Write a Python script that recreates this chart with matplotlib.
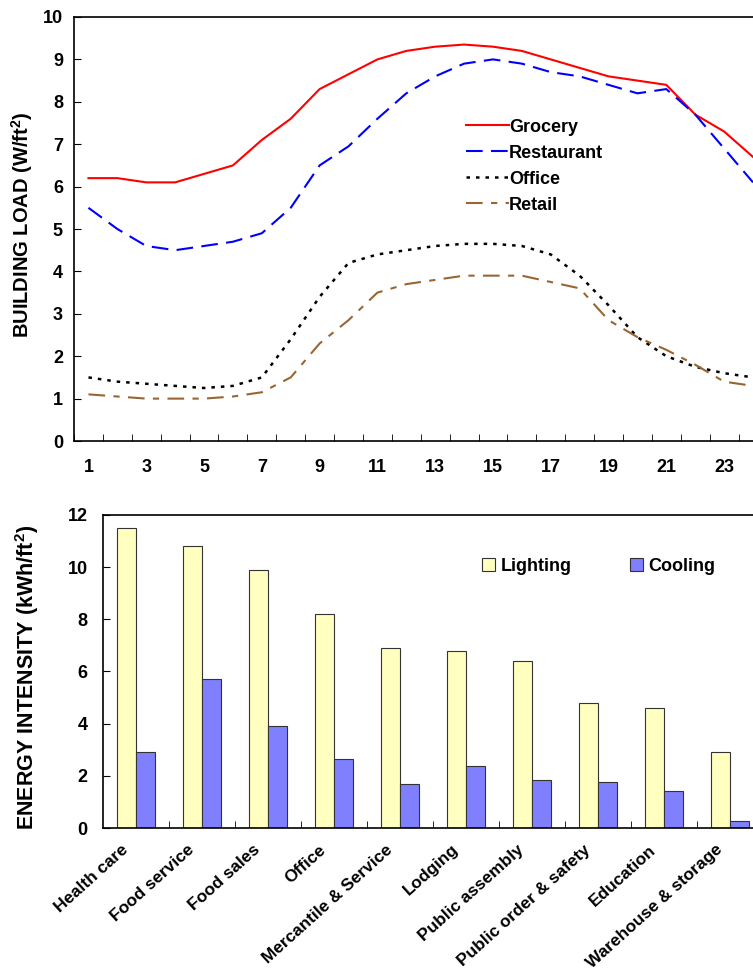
import matplotlib
matplotlib.use("Agg")
import matplotlib.pyplot as plt
import matplotlib.transforms as mtrans
import numpy as np
from matplotlib.ticker import FixedLocator

plt.rcParams['font.family'] = ['Liberation Sans', 'DejaVu Sans']
plt.rcParams['font.weight'] = 'bold'
plt.rcParams['mathtext.fontset'] = 'custom'
plt.rcParams['mathtext.bf'] = 'Liberation Sans:bold'
plt.rcParams['mathtext.rm'] = 'Liberation Sans:bold'

hours = list(range(1, 25))
grocery = [6.2, 6.2, 6.1, 6.1, 6.3, 6.5, 7.1, 7.6, 8.3, 8.65, 9.0, 9.2, 9.3, 9.35, 9.3, 9.2, 9.0, 8.8, 8.6, 8.5, 8.4, 7.7, 7.3, 6.7]
restaurant = [5.5, 5.0, 4.6, 4.5, 4.6, 4.7, 4.9, 5.5, 6.5, 6.95, 7.6, 8.2, 8.6, 8.9, 9.0, 8.9, 8.7, 8.6, 8.4, 8.2, 8.3, 7.7, 6.9, 6.1]
office = [1.5, 1.4, 1.35, 1.3, 1.25, 1.3, 1.5, 2.4, 3.4, 4.2, 4.4, 4.5, 4.6, 4.65, 4.65, 4.6, 4.4, 3.9, 3.2, 2.45, 2.0, 1.75, 1.6, 1.5]
retail = [1.1, 1.05, 1.0, 1.0, 1.0, 1.05, 1.15, 1.5, 2.3, 2.85, 3.5, 3.7, 3.8, 3.9, 3.9, 3.9, 3.75, 3.6, 2.85, 2.45, 2.15, 1.8, 1.4, 1.3]

categories = ['Health care', 'Food service', 'Food sales', 'Office', 'Mercantile & Service',
              'Lodging', 'Public assembly', 'Public order & safety', 'Education', 'Warehouse & storage']
lighting = [11.5, 10.8, 9.9, 8.2, 6.9, 6.8, 6.4, 4.8, 4.6, 2.9]
cooling = [2.9, 5.7, 3.92, 2.65, 1.7, 2.37, 1.85, 1.78, 1.4, 0.25]

FS = 13

fig = plt.figure(figsize=(7.53, 9.77), dpi=100)

# ---- Top chart ----
ax1 = fig.add_axes([0.0983, 0.5486, 0.9017, 0.434])
ax1.plot(hours, grocery, color='#FF0000', lw=1.5, label='Grocery')
ax1.plot(hours, restaurant, color='#0000FF', lw=1.5, dashes=(8, 4), label='Restaurant')
ax1.plot(hours, office, color='#000000', lw=1.8, dashes=(1.4, 2.4), label='Office')
ax1.plot(hours, retail, color='#996633', lw=1.5, dashes=(8, 4, 3, 4), label='Retail')
ax1.set_xlim(0.5, 24.0)
ax1.set_ylim(0, 10)
ax1.set_yticks(range(0, 11))
ax1.set_xticks(list(range(1, 25, 2)))
ax1.xaxis.set_minor_locator(FixedLocator(np.arange(0.5, 25, 1)))
ax1.tick_params(axis='x', which='major', length=0, pad=13, labelsize=FS)
ax1.tick_params(axis='x', which='minor', direction='in', length=5)
ax1.tick_params(axis='y', direction='in', length=5, labelsize=FS, pad=8)
for lab in ax1.get_xticklabels() + ax1.get_yticklabels():
    lab.set_fontweight('bold')
ax1.spines['right'].set_visible(False)
for s in ['left', 'bottom', 'top']:
    ax1.spines[s].set_linewidth(1.2)
leg1 = ax1.legend(loc='center left', bbox_to_anchor=(0.577, 0.648), frameon=False, fontsize=FS,
                  handlelength=2.4, handletextpad=0.0, labelspacing=0.5, borderaxespad=0, borderpad=0)
for t in leg1.get_texts():
    t.set_fontweight('bold')
fig.text(0.0292, 0.7697, 'BUILDING LOAD (W/ft$^{\\mathbf{2}}$)', rotation=90, ha='center', va='center',
         fontsize=14.5, fontweight='bold')

# ---- Bottom chart ----
ax2 = fig.add_axes([0.1368, 0.1525, 0.8632, 0.3204])
x = np.arange(len(categories))
w = 0.29
ax2.bar(x - w / 2, lighting, width=w, color='#FFFFC0', edgecolor='#333333', lw=0.8, label='Lighting')
ax2.bar(x + w / 2, cooling, width=w, color='#8080FF', edgecolor='#333333', lw=0.8, label='Cooling')
ax2.set_xlim(-0.5, 9.35)
ax2.set_ylim(0, 12)
ax2.set_yticks(range(0, 13, 2))
ax2.set_xticks(x)
ax2.set_xticklabels(categories, rotation=42, ha='right', rotation_mode='anchor', fontsize=12.4, fontweight='bold')
ax2.xaxis.set_minor_locator(FixedLocator(np.arange(0.5, 10, 1)))
ax2.tick_params(axis='x', which='major', length=0, pad=10)
ax2.tick_params(axis='x', which='minor', direction='in', length=5)
ax2.tick_params(axis='y', direction='in', length=5, labelsize=FS, pad=11)
for lab in ax2.get_yticklabels():
    lab.set_fontweight('bold')
for lab in ax2.get_xticklabels():
    lab.set_transform(lab.get_transform() + mtrans.ScaledTranslation(-0.15, 0, fig.dpi_scale_trans))
ax2.spines['right'].set_visible(False)
for s in ['left', 'bottom', 'top']:
    ax2.spines[s].set_linewidth(1.2)
leg2 = ax2.legend(loc='center left', bbox_to_anchor=(0.583, 0.837), frameon=False, fontsize=FS, ncol=2,
                  handlelength=0.75, handleheight=0.75, handletextpad=0.3, columnspacing=3.2,
                  borderaxespad=0, borderpad=0)
for t in leg2.get_texts():
    t.set_fontweight('bold')
fig.text(0.0359, 0.307, 'ENERGY INTENSITY (kWh/ft$^{\\mathbf{2}}$)', rotation=90, ha='center', va='center',
         fontsize=15.5, fontweight='bold')

fig.savefig('out.png', dpi=100)
